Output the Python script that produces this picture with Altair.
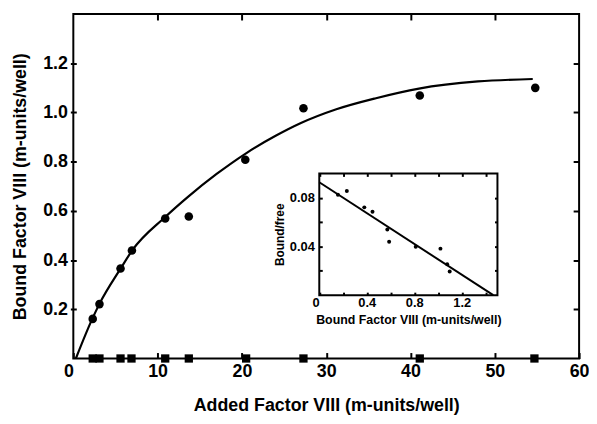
import altair as alt
import pandas as pd

# ---- main panel data ----
added = [2.3, 3.1, 5.6, 6.95, 10.9, 13.7, 20.4, 27.3, 41.1, 54.8]
bound = [0.161, 0.221, 0.366, 0.439, 0.569, 0.577, 0.808, 1.017, 1.069, 1.100]
square_x = [2.3, 3.1, 5.6, 6.9, 10.9, 13.7, 20.5, 27.3, 41.1, 54.7]
square_y = [0, 0, 0, 0, 0, 0, 0, 0, 0, 0]
curve_x = [0.3, 2.3, 3.1, 5.6, 7.0, 10.9, 13.6, 17.0, 20.4, 24.0, 27.0, 31.2, 35.9, 41.0, 48.0, 54.5]
curve_y = [0.0, 0.165, 0.222, 0.365, 0.44, 0.575, 0.657, 0.75, 0.832, 0.905, 0.957, 1.013, 1.058, 1.097, 1.126, 1.136]

# ---- inset data ----
inset_x = [0.157, 0.232, 0.379, 0.448, 0.573, 0.588, 0.812, 1.02, 1.077, 1.098]
inset_y = [0.0824, 0.0856, 0.0721, 0.0685, 0.0539, 0.0439, 0.0398, 0.0382, 0.0254, 0.0195]
fit_x = [0.0, 1.465]
fit_y = [0.0927, 0.0]

# ---- axes / ticks ----
main_x_domain = [0, 60]
main_y_domain = [0, 1.4]
main_x_ticks = [0, 10, 20, 30, 40, 50, 60]
main_top_ticks = [10, 20, 30, 40, 50]
main_y_ticks = [0.2, 0.4, 0.6, 0.8, 1.0, 1.2]
inset_x_domain = [0, 1.5]
inset_y_domain = [0, 0.1]
inset_x_ticks = [0, 0.2, 0.4, 0.6, 0.8, 1.0, 1.2, 1.4]
inset_x_labels = [0, 0.4, 0.8, 1.2]
inset_y_ticks = [0.02, 0.04, 0.06, 0.08]
inset_y_labels = [0.04, 0.08]

FONT = "Liberation Sans"
W, H = 511, 348
# inset placement inside the plot area (pixels)
IX0, IX1 = 248.5, 428.5
IY0, IY1 = 284, 161

main_df = pd.DataFrame({"x": added, "y": bound})
sq_df = pd.DataFrame({"x": square_x, "y": square_y})
curve_df = pd.DataFrame({"x": curve_x, "y": curve_y})
inset_df = pd.DataFrame({"x": inset_x, "y": inset_y})
fit_df = pd.DataFrame({"x": fit_x, "y": fit_y})
box_df = pd.DataFrame({"x0": [inset_x_domain[0]], "x1": [inset_x_domain[1]],
                       "y0": [inset_y_domain[0]], "y1": [inset_y_domain[1]]})

mx = alt.Scale(domain=main_x_domain, nice=False)
my = alt.Scale(domain=main_y_domain, nice=False)
ix = alt.Scale(domain=inset_x_domain, range=[IX0, IX1], nice=False)
iy = alt.Scale(domain=inset_y_domain, range=[IY0, IY1], nice=False)

main_x_axis = alt.Axis(
    orient="bottom", values=main_x_ticks, format="d", offset=-6, tickSize=6, tickWidth=2,
    labelFontSize=18, labelFontWeight="bold", labelPadding=4, labelFlush=False,
    labelAlign={"condition": {"test": "datum.value == 0", "value": "right"}, "value": "center"},
    title="Added Factor VIII (m-units/well)", titleFontSize=18, titleFontWeight="bold",
    titlePadding=17)
main_y_axis = alt.Axis(
    orient="left", values=main_y_ticks, format=".1f", offset=-3, tickSize=6, tickWidth=2,
    labelFontSize=18, labelFontWeight="bold", labelPadding=3,
    title="Bound Factor VIII (m-units/well)", titleFontSize=18, titleFontWeight="bold",
    titlePadding=13)
main_top_axis = alt.Axis(orient="top", values=main_top_ticks, offset=-6, tickSize=6,
                         tickWidth=2, labels=False, title=None)
main_right_axis = alt.Axis(orient="right", values=main_y_ticks, offset=-6, tickSize=6,
                           tickWidth=2, labels=False, title=None)

lab_list = ",".join(str(v) for v in inset_x_labels)
inset_x_axis = alt.Axis(
    orient="bottom", values=inset_x_ticks, offset=IY0 - 3 - H, tickSize=3, tickWidth=2,
    labelExpr=f"indexof([{lab_list}], datum.value) >= 0 ? (datum.value == 0 ? '0' : format(datum.value, '.1f')) : ''",
    labelFontSize=13, labelFontWeight="bold", labelPadding=1.5, labelFlush=False,
    labelAlign={"condition": {"test": "datum.value == 0", "value": "right"}, "value": "center"},
    title="Bound Factor VIII (m-units/well)", titleFontSize=12.5, titleFontWeight="bold",
    titlePadding=4)
ylab_list = ",".join(str(v) for v in inset_y_labels)
inset_y_axis = alt.Axis(
    orient="left", values=inset_y_ticks, offset=-(IX0 + 3), tickSize=3, tickWidth=2,
    labelExpr=f"indexof([{ylab_list}], datum.value) >= 0 ? format(datum.value, '.2f') : ''",
    labelFontSize=13, labelFontWeight="bold", labelPadding=5,
    title="Bound/free", titleFontSize=12, titleFontWeight="bold", titlePadding=3)
inset_top_axis = alt.Axis(orient="top", values=inset_x_ticks, offset=-(IY1 + 3), tickSize=3,
                          tickWidth=2, labels=False, title=None)
inset_right_axis = alt.Axis(orient="right", values=inset_y_ticks, offset=(IX1 - 3) - W,
                            tickSize=3, tickWidth=2, labels=False, title=None)

curve = alt.Chart(curve_df).mark_line(color="black", strokeWidth=2.2, interpolate="monotone").encode(
    x=alt.X("x:Q", scale=mx, axis=main_x_axis),
    y=alt.Y("y:Q", scale=my, axis=main_y_axis),
)
points = alt.Chart(main_df).mark_circle(color="black", size=75, opacity=1).encode(
    x=alt.X("x:Q", scale=mx, axis=main_top_axis),
    y=alt.Y("y:Q", scale=my, axis=main_right_axis),
)
squares = alt.Chart(sq_df).mark_square(color="black", size=70, opacity=1).encode(
    x=alt.X("x:Q", scale=mx, axis=None),
    y=alt.Y("y:Q", scale=my, axis=None),
)
box = alt.Chart(box_df).mark_rect(fillOpacity=0, stroke="black", strokeWidth=2).encode(
    x=alt.X("x0:Q", scale=ix, axis=None),
    x2="x1:Q",
    y=alt.Y("y0:Q", scale=iy, axis=None),
    y2="y1:Q",
)
fit = alt.Chart(fit_df).mark_line(color="black", strokeWidth=2).encode(
    x=alt.X("x:Q", scale=ix, axis=inset_x_axis),
    y=alt.Y("y:Q", scale=iy, axis=inset_y_axis),
)
inset_pts = alt.Chart(inset_df).mark_circle(color="black", size=16, opacity=1).encode(
    x=alt.X("x:Q", scale=ix, axis=inset_top_axis),
    y=alt.Y("y:Q", scale=iy, axis=inset_right_axis),
)

chart = alt.layer(curve, points, squares, box, fit, inset_pts).resolve_scale(
    x="independent", y="independent"
).resolve_axis(
    x="independent", y="independent"
).properties(
    width=W, height=H,
    autosize=alt.AutoSizeParams(type="none"),
    padding={"left": 66, "top": 4, "right": 10, "bottom": 56},
    background="white",
).configure_view(
    stroke="black", strokeWidth=2
).configure_axis(
    grid=False, domain=False, tickColor="black", labelColor="black", titleColor="black",
    labelFont=FONT, titleFont=FONT,
)

chart.save("out.html", embed_options={"renderer": "svg", "actions": False})
